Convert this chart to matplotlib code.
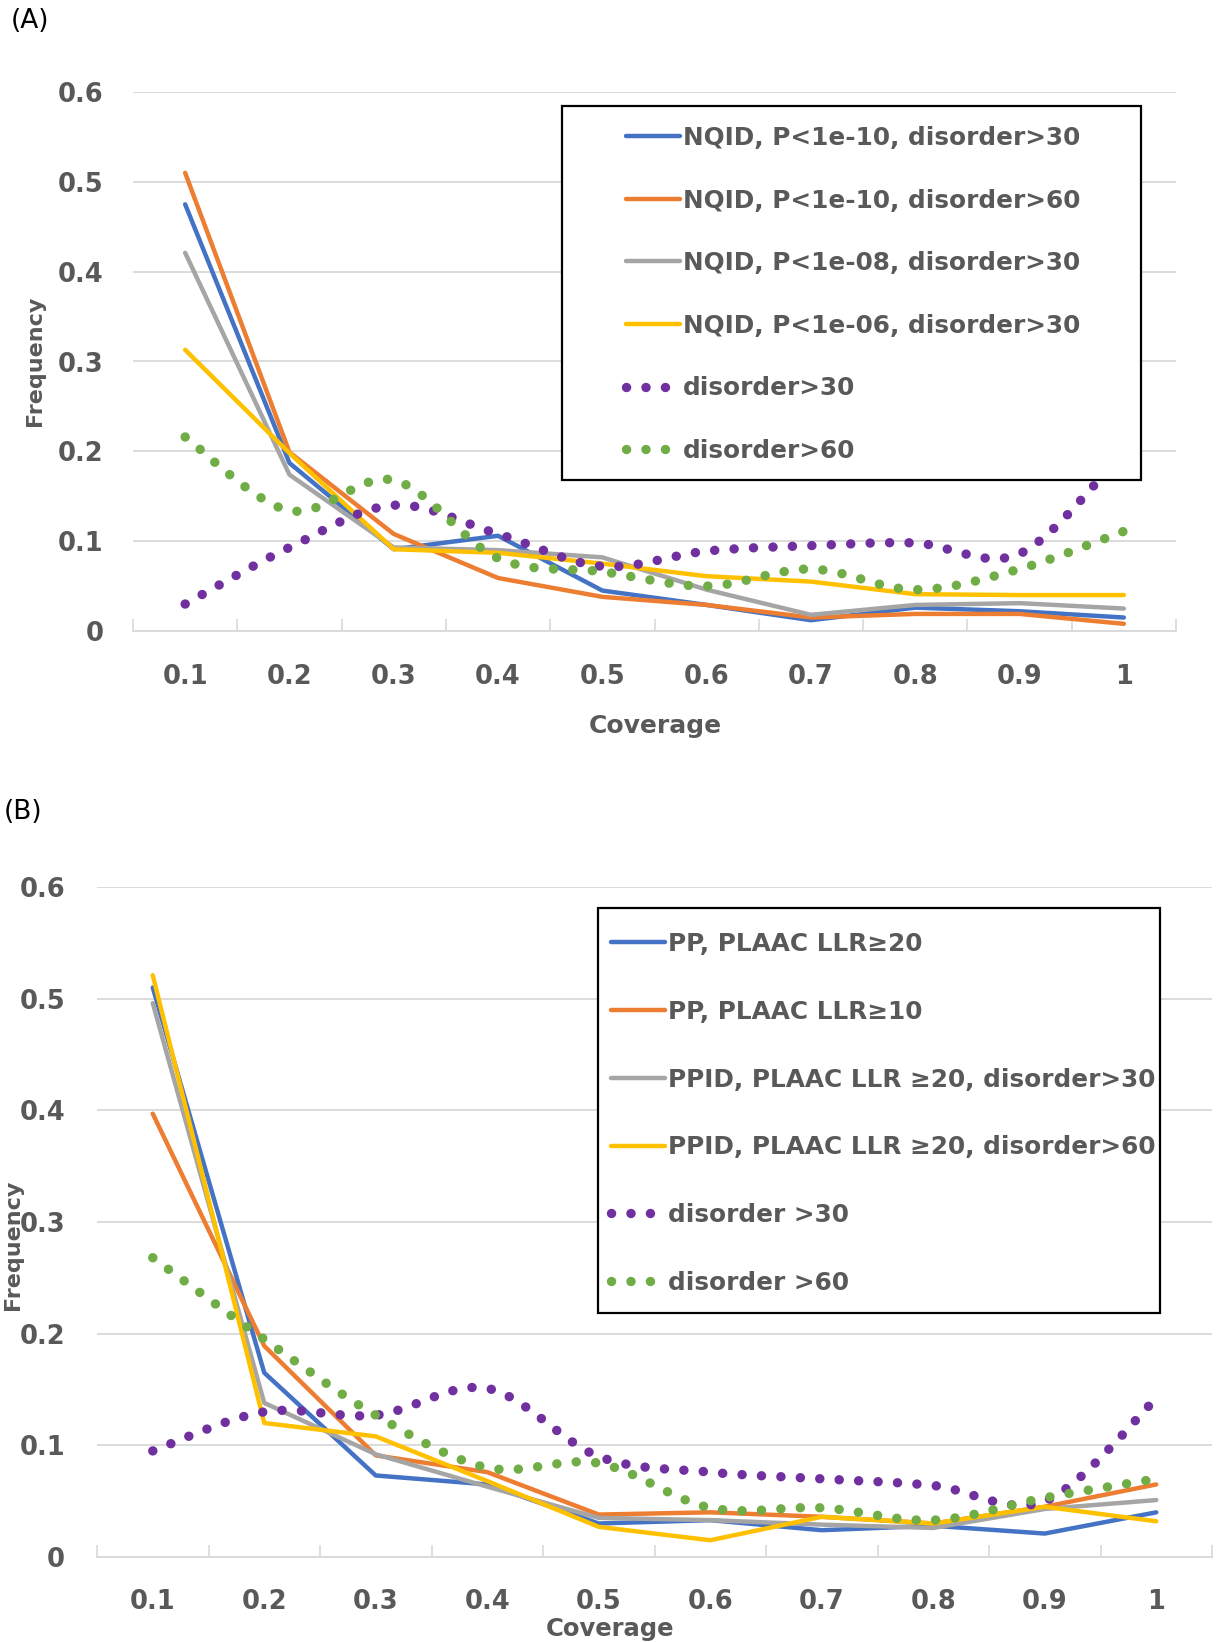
import numpy as np
import matplotlib
matplotlib.use('Agg')
import matplotlib.pyplot as plt
from matplotlib.path import Path
from matplotlib.patches import PathPatch, Rectangle

# ---- data -------------------------------------------------------------
coverage = ['0.1', '0.2', '0.3', '0.4', '0.5', '0.6', '0.7', '0.8', '0.9', '1']

# panel A
nqid_p10_d30 = [0.475, 0.187, 0.091, 0.106, 0.045, 0.029, 0.012, 0.026, 0.022, 0.015]
nqid_p10_d60 = [0.510, 0.199, 0.108, 0.059, 0.038, 0.029, 0.015, 0.019, 0.019, 0.008]
nqid_p08_d30 = [0.421, 0.174, 0.093, 0.090, 0.082, 0.046, 0.018, 0.029, 0.031, 0.025]
nqid_p06_d30 = [0.313, 0.198, 0.091, 0.087, 0.075, 0.061, 0.055, 0.041, 0.040, 0.040]
disorder30_a = [0.030, 0.093, 0.140, 0.108, 0.072, 0.089, 0.095, 0.098, 0.086, 0.200]
disorder60_a = [0.216, 0.134, 0.168, 0.081, 0.066, 0.050, 0.069, 0.046, 0.069, 0.111]
labels_a = ['NQID, P<1e-10, disorder>30', 'NQID, P<1e-10, disorder>60',
            'NQID, P<1e-08, disorder>30', 'NQID, P<1e-06, disorder>30',
            'disorder>30', 'disorder>60']

# panel B
pp_llr20 = [0.510, 0.165, 0.073, 0.065, 0.030, 0.033, 0.024, 0.028, 0.021, 0.040]
pp_llr10 = [0.397, 0.189, 0.091, 0.076, 0.038, 0.040, 0.036, 0.030, 0.045, 0.065]
ppid_llr20_d30 = [0.496, 0.138, 0.092, 0.063, 0.035, 0.033, 0.029, 0.026, 0.043, 0.051]
ppid_llr20_d60 = [0.521, 0.120, 0.108, 0.068, 0.027, 0.015, 0.036, 0.030, 0.045, 0.032]
disorder30_b = [0.095, 0.130, 0.127, 0.151, 0.090, 0.076, 0.070, 0.064, 0.050, 0.142]
disorder60_b = [0.268, 0.195, 0.127, 0.080, 0.084, 0.044, 0.044, 0.033, 0.053, 0.070]
labels_b = ['PP, PLAAC LLR\u226520', 'PP, PLAAC LLR\u226510',
            'PPID, PLAAC LLR \u226520, disorder>30', 'PPID, PLAAC LLR \u226520, disorder>60',
            'disorder >30', 'disorder >60']

yticks = [0, 0.1, 0.2, 0.3, 0.4, 0.5, 0.6]
ytick_labels = ['0', '0.1', '0.2', '0.3', '0.4', '0.5', '0.6']

colors = ['#4472C4', '#ED7D31', '#A5A5A5', '#FFC000', '#7030A0', '#70AD47']
TXT = '#595959'
GRID = '#D9D9D9'
DOT_LW = 6.8
DOTS = (0, (0.01, 2.05))

W, H = 1220, 1642
fig = plt.figure(figsize=(W / 100, H / 100), dpi=100)
plt.rcParams['font.family'] = ['DejaVu Sans']


def fx(x):
    return x / W


def fy(y):
    return 1 - y / H


def smooth_path(xs, ys):
    # excel style smoothed line: cubic bezier through every point
    pts = np.column_stack([xs, ys]).astype(float)
    n = len(pts)
    verts = [pts[0]]
    codes = [Path.MOVETO]
    for i in range(n - 1):
        p0 = pts[i - 1] if i > 0 else pts[i]
        p1 = pts[i]
        p2 = pts[i + 1]
        p3 = pts[i + 2] if i + 2 < n else pts[i + 1]
        verts += [p1 + (p2 - p0) / 6, p2 - (p3 - p1) / 6, p2]
        codes += [Path.CURVE4] * 3
    return Path(verts, codes)


def panel(rect, solid, dotted, labels, tag, tag_xy, ylab_xy, xlab_xy, xlab_size,
          ypad, xpad, box, leg_anchor, labelspacing):
    left, top, right, bottom = rect
    ax = fig.add_axes([fx(left), fy(bottom), fx(right - left), (bottom - top) / H])
    x = np.arange(len(coverage))
    handles = []
    for i, ys in enumerate(solid):
        h, = ax.plot(x, ys, color=colors[i], lw=3.2, solid_capstyle='round',
                     solid_joinstyle='round', zorder=2)
        handles.append(h)
    for j, ys in enumerate(dotted):
        c = colors[4 + j]
        ax.add_patch(PathPatch(smooth_path(x, ys), fill=False, edgecolor=c, lw=DOT_LW,
                               linestyle=DOTS, capstyle='round', zorder=3))
        h, = ax.plot([], [], color=c, lw=DOT_LW, linestyle=DOTS, dash_capstyle='round')
        handles.append(h)

    ax.set_xlim(-0.5, len(coverage) - 0.5)
    ax.set_ylim(0, 0.6)
    ax.set_xticks(x)
    ax.set_xticklabels(coverage)
    ax.set_xticks(np.arange(-0.5, len(coverage)), minor=True)
    ax.set_yticks(yticks)
    ax.set_yticklabels(ytick_labels)
    ax.tick_params(axis='x', which='major', length=0, pad=xpad, labelsize=18.5,
                   labelcolor=TXT)
    ax.tick_params(axis='x', which='minor', direction='in', length=9, width=1.2,
                   color=GRID)
    ax.tick_params(axis='y', length=0, pad=ypad, labelsize=18.5, labelcolor=TXT)
    for t in ax.get_xticklabels() + ax.get_yticklabels():
        t.set_fontweight('bold')
    ax.grid(axis='y', color=GRID, lw=1.3)
    ax.set_axisbelow(True)
    for s in ['top', 'left', 'right']:
        ax.spines[s].set_visible(False)
    ax.spines['bottom'].set_color(GRID)
    ax.spines['bottom'].set_linewidth(1.3)

    bx0, by0, bx1, by1 = box
    ax.add_patch(Rectangle((fx(bx0), fy(by1)), fx(bx1 - bx0), (by1 - by0) / H,
                           transform=fig.transFigure, facecolor='white',
                           edgecolor='black', lw=1.6, zorder=4, clip_on=False))
    leg = ax.legend(handles, labels, loc='upper left',
                    bbox_to_anchor=(fx(leg_anchor[0]), fy(leg_anchor[1])),
                    bbox_transform=fig.transFigure, frameon=False, borderpad=0,
                    borderaxespad=0, handlelength=2.2, handletextpad=0.1,
                    labelspacing=labelspacing,
                    prop={'size': 17.8, 'weight': 'bold'})
    leg.set_zorder(5)
    for t in leg.get_texts():
        t.set_color(TXT)

    fig.text(fx(tag_xy[0]), fy(tag_xy[1]), tag, fontsize=19, ha='left', va='center')
    fig.text(fx(ylab_xy[0]), fy(ylab_xy[1]), 'Frequency', rotation=90, fontsize=16,
             fontweight='bold', color=TXT, ha='center', va='center')
    fig.text(fx(xlab_xy[0]), fy(xlab_xy[1]), 'Coverage', fontsize=xlab_size,
             fontweight='bold', color=TXT, ha='center', va='center')
    return ax


panel((133, 92, 1176, 631),
      [nqid_p10_d30, nqid_p10_d60, nqid_p08_d30, nqid_p06_d30],
      [disorder30_a, disorder60_a], labels_a,
      '(A)', (11, 21), (35, 361), (655, 726), 18,
      ypad=21, xpad=24, box=(562, 106, 1141, 480), leg_anchor=(626, 126),
      labelspacing=1.56)

panel((97, 887, 1212, 1557),
      [pp_llr20, pp_llr10, ppid_llr20_d30, ppid_llr20_d60],
      [disorder30_b, disorder60_b], labels_b,
      '(B)', (4, 812), (13, 1245), (610, 1629), 17.5,
      ypad=23, xpad=23, box=(598, 908, 1160, 1313), leg_anchor=(611, 932),
      labelspacing=1.77)

fig.savefig('out.png', dpi=100, facecolor='white')
